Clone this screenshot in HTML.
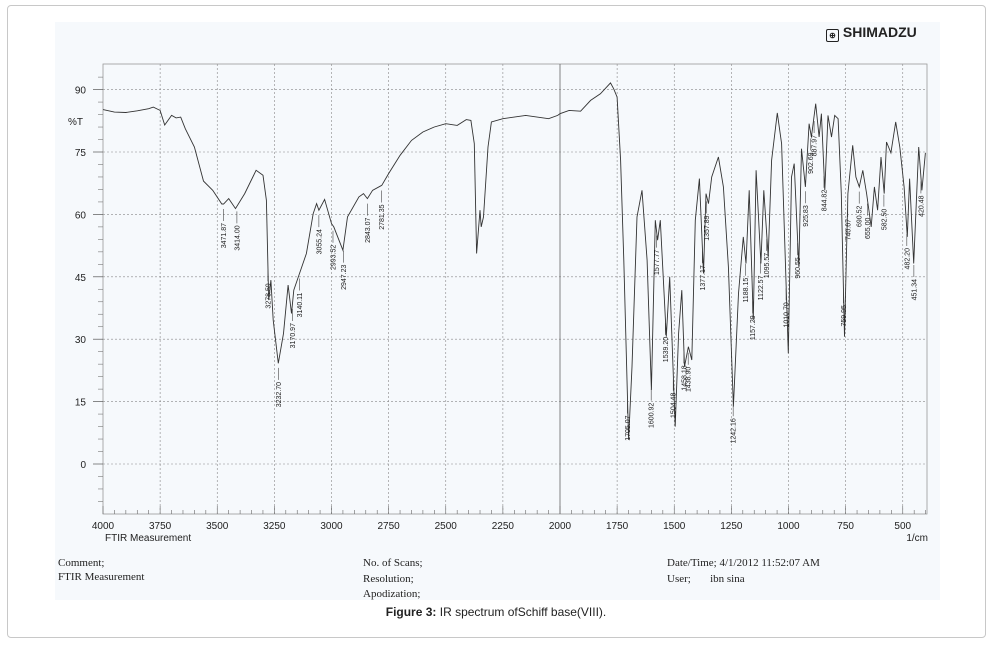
<!DOCTYPE html>
<html><head><meta charset="utf-8"><style>
body{margin:0;background:#fff;width:992px;height:645px;overflow:hidden;font-family:"Liberation Sans",sans-serif}
#outer{position:absolute;left:7px;top:5px;width:977px;height:631px;border:1px solid #c8c8c8;border-radius:4px}
#card{position:absolute;left:55px;top:22px;width:885px;height:578px;background:#f6f9fc}
.ft{position:absolute;font-family:"Liberation Serif",serif;font-size:11px;color:#222}
</style></head><body>
<div id="outer"></div>
<div id="card"></div>
<svg id="chart" width="992" height="645" style="position:absolute;left:0;top:0"></svg>
<div class="ft" style="left:58px;top:557px">Comment;</div>
<div class="ft" style="left:58px;top:571px">FTIR Measurement</div>
<div class="ft" style="left:363px;top:557px">No. of Scans;</div>
<div class="ft" style="left:363px;top:573px">Resolution;</div>
<div class="ft" style="left:363px;top:588px">Apodization;</div>
<div class="ft" style="left:667px;top:557px">Date/Time; 4/1/2012 11:52:07 AM</div>
<div class="ft" style="left:667px;top:573px">User;&nbsp;&nbsp;&nbsp;&nbsp;&nbsp;&nbsp;&nbsp;ibn sina</div>
<div style="position:absolute;left:0;width:992px;top:605px;text-align:center;font-size:12px;color:#222"><b>Figure 3:</b> IR spectrum ofSchiff base(VIII).</div>
<div style="position:absolute;left:826px;top:24px;font-weight:bold;font-size:14px;color:#222"><span style="display:inline-block;width:11px;height:11px;border:1.5px solid #222;border-radius:2px;font-size:8px;line-height:11px;text-align:center;vertical-align:-1px">⊕</span> SHIMADZU</div>
<script>
const xTicks=[4000,3750,3500,3250,3000,2750,2500,2250,2000,1750,1500,1250,1000,750,500];
const yTicks=[90,75,60,45,30,15,0];
const wavenumbers=[4000,3950,3900,3850,3800,3780,3750,3730,3700,3680,3660,3640,3600,3560,3520,3480,3472,3450,3420,3380,3330,3300,3285,3275,3265,3255,3233,3210,3190,3175,3165,3140,3110,3080,3065,3055,3030,3000,2990,2950,2930,2880,2860,2843,2820,2780,2750,2700,2650,2600,2550,2500,2450,2410,2390,2375,2365,2350,2345,2335,2315,2300,2250,2150,2050,2010,2000,1960,1910,1866,1823,1779,1765,1750,1735,1721,1700,1685,1663,1641,1619,1600,1583,1573,1561,1535,1520,1496,1481,1467,1455,1438,1423,1408,1390,1372,1361,1350,1336,1307,1285,1263,1241,1219,1198,1186,1172,1154,1142,1121,1108,1089,1074,1049,1030,1001,987,975,955,943,926,910,900,881,866,856,841,827,812,798,783,769,755,740,719,705,690,675,658,638,624,610,595,581,571,552,531,513,494,480,470,452,430,416,401];
const transmittance=[85.2,84.6,84.5,84.9,85.4,85.8,85,81.5,83.8,83.2,83.4,80.6,76.2,68,65.8,62.5,62.5,63.8,61.4,65,70.6,69.4,63.4,39.4,44.2,34.6,24.2,31.4,43,36.2,41.8,45.8,50.6,60.2,62.6,61,63.6,57.8,57,51.4,59.4,64.2,65,63.8,65.8,67,69.8,74.2,77.8,79.8,81,81.8,81.4,82.8,82.6,77,50.6,61,57,59.4,76.2,82.2,83,83.8,83,83.8,84.2,85,84.8,87.4,89,91.6,90.2,88.2,73,49,5.8,23.4,59.4,65.8,49,17.8,58.6,53.8,58.6,30.6,45,9,31.4,41.8,23.4,28.2,25,58.6,68.6,45.8,65,62.6,69,73.8,66.6,47.4,13.8,41,54.6,48.2,65.8,34.6,70.6,48.2,65.8,49.8,73,84.4,77,26.6,69,72.2,47.4,75.8,66.6,81.8,78.6,86.6,78.6,84.2,65.8,83.8,78.6,83.8,83,65,30.6,65,76.6,69,66.6,70.6,65,57,66.6,61,73.8,65,77.4,74.8,82.2,76.2,66.6,54.6,68.6,48.2,76.2,65.8,74.8];
const peakLabels=["3471.87","3414.00","3278.59","3232.70","3170.97","3140.11","3055.24","2993.52","2947.23","2843.07","2781.35","1705.07","1600.92","1577.77","1539.20","1504.48","1458.18","1438.90","1377.17","1357.89","1242.16","1188.15","1157.29","1122.57","1095.57","1010.70","960.55","925.83","902.69","887.97","844.82","759.95","740.67","690.52","655.00","582.50","482.20","451.34","420.48"];
const peakWn=[3471.87,3414,3278.59,3232.7,3170.97,3140.11,3055.24,2993.52,2947.23,2843.07,2781.35,1705.07,1600.92,1577.77,1539.2,1504.48,1458.18,1438.9,1377.17,1357.89,1242.16,1188.15,1157.29,1122.57,1095.57,1010.7,960.55,925.83,902.69,887.97,844.82,759.95,740.67,690.52,655,582.5,482.2,451.34,420.48];

const NS='http://www.w3.org/2000/svg';
const svg=document.getElementById('chart');
const X0=103,XW=0.2285,Y0=464,YK=4.16;
function xs(w){return X0+(4000-w)*XW;}
function ys(t){return Y0-t*YK;}
function el(tag,attrs,parent){const e=document.createElementNS(NS,tag);for(const k in attrs)e.setAttribute(k,attrs[k]);(parent||svg).appendChild(e);return e;}
function interpT(w){for(let i=0;i<wavenumbers.length-1;i++){const a=wavenumbers[i],b=wavenumbers[i+1];if(w<=a&&w>=b){const f=(a-w)/(a-b);return transmittance[i]+f*(transmittance[i+1]-transmittance[i]);}}return transmittance[transmittance.length-1];}
const plotTop=64,plotBot=514,plotRight=927;
const fr=el('rect',{x:X0,y:plotTop,width:plotRight-X0,height:plotBot-plotTop,fill:'none',stroke:'#999','stroke-width':0.8});


yTicks.forEach(t=>{
 const g=el('line',{x1:X0,x2:plotRight,y1:ys(t),y2:ys(t),stroke:'#888','stroke-width':0.6,'stroke-dasharray':'2,2'});
 
 
 const tl=el('line',{x1:X0-10,x2:X0,y1:ys(t),y2:ys(t),stroke:'#555','stroke-width':0.7});
 
 
 const lb=el('text',{x:86,y:ys(t)+4,'text-anchor':'end','font-size':10,fill:'#222','font-family':'Liberation Sans'});
 lb.textContent=t;
 
 
});
for(let t=-9;t<=93;t+=3){if(t%15===0)continue;const m=el('line',{x1:X0-5,x2:X0,y1:ys(t),y2:ys(t),stroke:'#777','stroke-width':0.6});
 
 }
const yl=el('text',{x:68,y:125,'font-size':10,fill:'#222','font-family':'Liberation Sans'});
yl.textContent='%T';


xTicks.forEach(w=>{
 if(w!==4000){const g=el('line',{x1:xs(w),x2:xs(w),y1:plotTop,y2:plotBot,stroke:w===2000?'#666':'#888','stroke-width':w===2000?0.8:0.6,'stroke-dasharray':w===2000?'':'2,2'});
 
 }
 const lb=el('text',{x:xs(w),y:529,'text-anchor':'middle','font-size':10,fill:'#222','font-family':'Liberation Sans'});
 lb.textContent=w;
 
 
});
for(let w=4000;w>=400;w-=50){const m=el('line',{x1:xs(w),x2:xs(w),y1:plotBot-(w%250===0?8:4),y2:plotBot,stroke:'#666','stroke-width':0.6});
 
 }
const ft=el('text',{x:105,y:541,'font-size':10,fill:'#222','font-family':'Liberation Sans'});ft.textContent='FTIR Measurement';


const xu=el('text',{x:928,y:541,'text-anchor':'end','font-size':10,fill:'#222','font-family':'Liberation Sans'});xu.textContent='1/cm';


let d='';wavenumbers.forEach((w,i)=>{d+=(i?'L':'M')+xs(w).toFixed(1)+','+ys(transmittance[i]).toFixed(1);});
const p=el('path',{d:d,fill:'none',stroke:'#333','stroke-width':0.9});


peakWn.forEach((w,i)=>{
 const x=xs(w),y=ys(interpT(w))+5;
 const ln=el('line',{x1:x,x2:x,y1:y,y2:y+12,stroke:'#444','stroke-width':0.6});
 
 
 const t=el('text',{x:0,y:0,'font-size':7,fill:'#222','font-family':'Liberation Sans','text-anchor':'end',transform:`translate(${x+2.5},${y+14}) rotate(-90)`});
 t.textContent=peakLabels[i];
 
 
});
</script>
</body></html>
